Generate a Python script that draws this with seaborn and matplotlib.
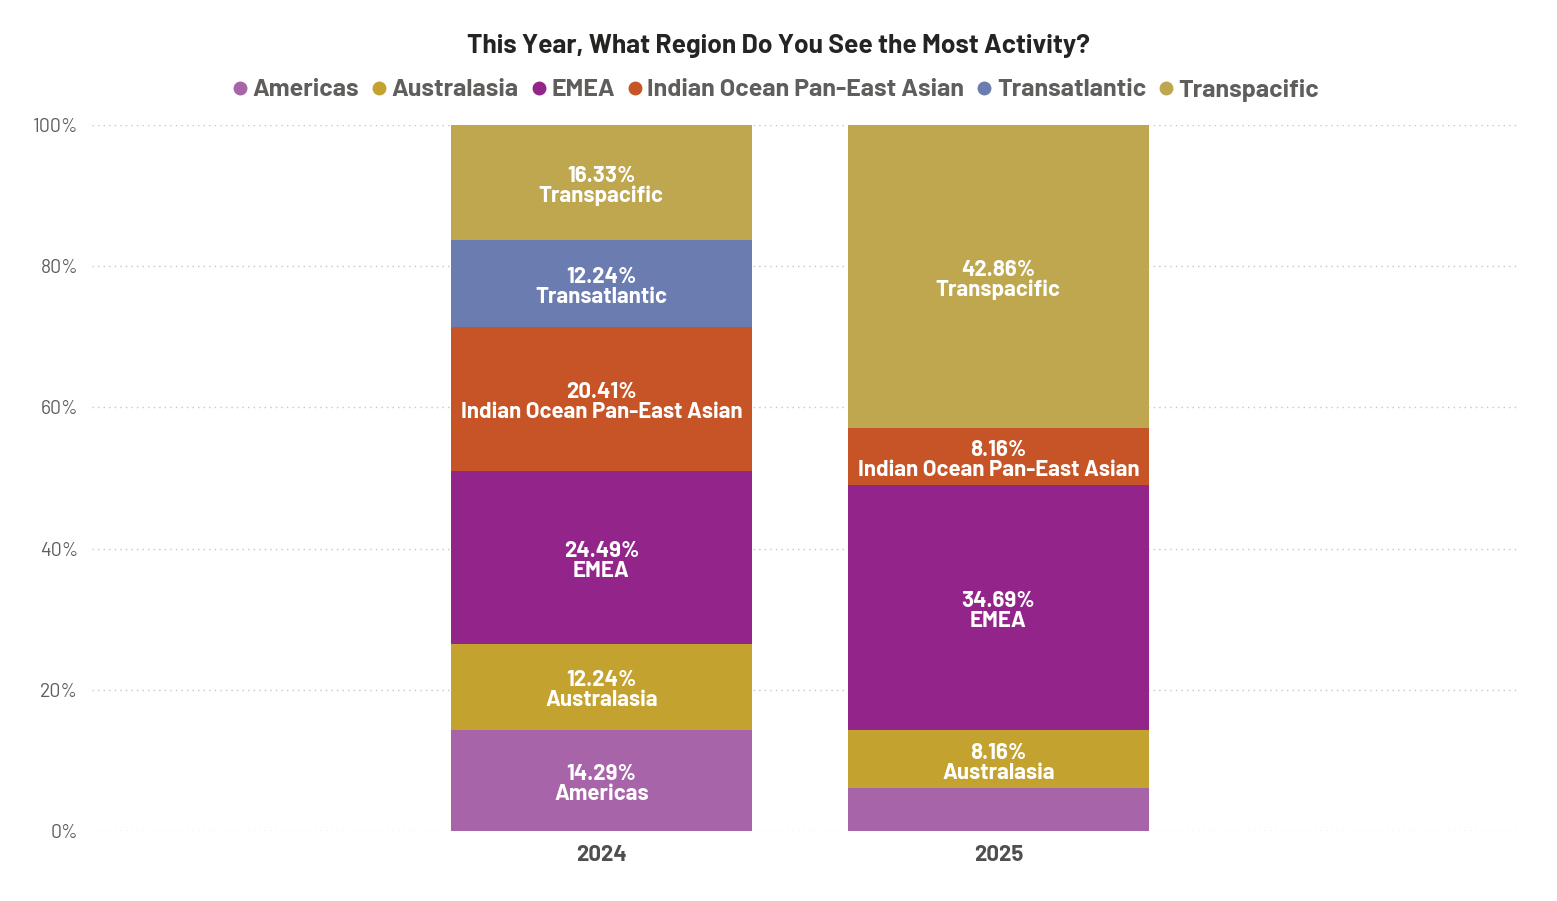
import numpy as np
import pandas as pd
import matplotlib
matplotlib.use("Agg")
import matplotlib.pyplot as plt
from matplotlib import font_manager
from matplotlib.lines import Line2D
import seaborn as sns

years = ["2024", "2025"]
series = ["Americas", "Australasia", "EMEA", "Indian Ocean Pan-East Asian", "Transatlantic", "Transpacific"]
americas = [14.29, 6.12]
australasia = [12.24, 8.16]
emea = [24.49, 34.69]
indian_ocean = [20.41, 8.16]
transatlantic = [12.24, 0.0]
transpacific = [16.33, 42.86]
colors = ["#A864A8", "#C4A22F", "#93258A", "#C75426", "#6B7DB0", "#BFA750"]
yticks = [0, 20, 40, 60, 80, 100]
ytick_labels = ["0%", "20%", "40%", "60%", "80%", "100%"]

values = [americas, australasia, emea, indian_ocean, transatlantic, transpacific]

sns.set_theme(style="white")
names = {f.name for f in font_manager.fontManager.ttflist}
fam = "DejaVu Sans"
for cand in ["Barlow", "Barlow Semi Condensed", "Roboto Condensed"]:
    if cand in names:
        fam = cand
        break
plt.rcParams["font.family"] = [fam, "DejaVu Sans"]

fig = plt.figure(figsize=(15.57, 9.01), dpi=100)
ax = fig.add_axes([92 / 1557, 1 - 831 / 901, (1520 - 92) / 1557, (831 - 125) / 901])

bottom = np.zeros(len(years))
for name, vals, col in zip(series, values, colors):
    df = pd.DataFrame({"year": years, "val": vals})
    sns.barplot(data=df, x="year", y="val", color=col, width=0.758, bottom=bottom,
                ax=ax, saturation=1, linewidth=0, errorbar=None)
    for i, v in enumerate(vals):
        if v >= 8:
            ax.text(i, bottom[i] + v / 2 - 0.5, f"{v:.2f}%\n{name}", ha="center", va="center",
                    color="white", fontsize=16, fontweight="bold", linespacing=1.0, zorder=5)
    bottom = bottom + np.array(vals)

ax.set_xlim(-1.283, 2.314)
ax.set_ylim(0, 100)
ax.set_yticks(yticks)
ax.set_yticklabels(ytick_labels, fontsize=14, color="#605E5C")
ax.yaxis.grid(True, linestyle=(0, (1, 3)), color="#C8C6C4", linewidth=1)
ax.set_axisbelow(True)
for s in ax.spines.values():
    s.set_visible(False)
ax.tick_params(axis="y", length=0, pad=10)
ax.tick_params(axis="x", length=0, pad=10)
for lab in ax.get_xticklabels():
    lab.set_fontsize(16)
    lab.set_fontweight("bold")
    lab.set_color("#4F4F4F")
ax.set_xlabel("")
ax.set_ylabel("")

fig.text(778 / 1557, 1 - 46 / 901, "This Year, What Region Do You See the Most Activity?",
         ha="center", va="center", fontsize=19, fontweight="bold", color="#252423")

handles = [Line2D([0], [0], marker="o", linestyle="", markersize=9, markerfacecolor=c,
                  markeredgecolor=c) for c in colors]
leg = fig.legend(handles, series, loc="center", bbox_to_anchor=(776 / 1557, 1 - 90 / 901),
                 ncol=6, frameon=False, handletextpad=0.2, columnspacing=0.5, handlelength=0.6,
                 prop={"size": 18, "weight": "bold"})
for t in leg.get_texts():
    t.set_color("#605E5C")

fig.savefig("out.png", dpi=100, facecolor="white")
